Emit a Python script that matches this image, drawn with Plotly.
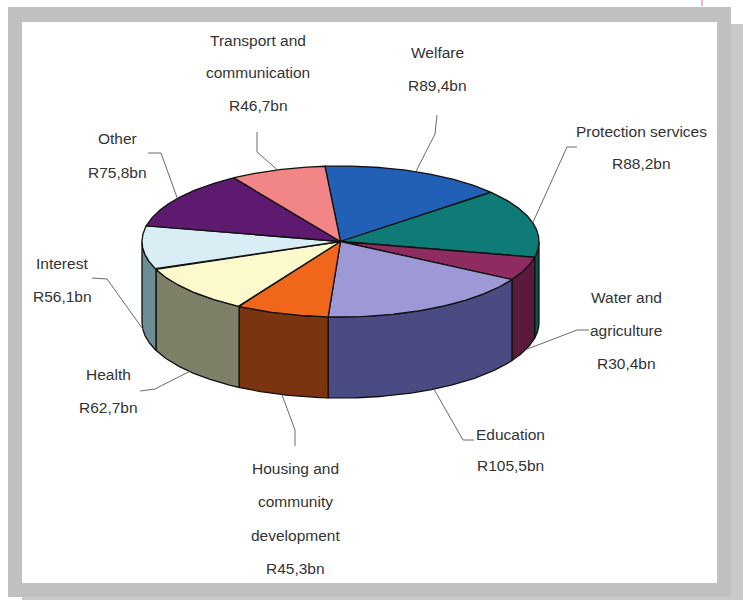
import numpy as np
import plotly.graph_objects as go

# ---------------- data ----------------
categories = ["Welfare", "Protection services", "Water and agriculture", "Education",
              "Housing and community development", "Health", "Interest", "Other",
              "Transport and communication"]
values = [89.4, 88.2, 30.4, 105.5, 45.3, 62.7, 56.1, 75.8, 46.7]
value_labels = ["R89,4bn", "R88,2bn", "R30,4bn", "R105,5bn", "R45,3bn",
                "R62,7bn", "R56,1bn", "R75,8bn", "R46,7bn"]
name_lines = [["Welfare"], ["Protection services"], ["Water and", "agriculture"],
              ["Education"], ["Housing and", "community", "development"],
              ["Health"], ["Interest"], ["Other"], ["Transport and", "communication"]]

# ---------------- styles ----------------
top_colors = ["#2260B8", "#0F7B76", "#8E2C62", "#9C99D6", "#F0671C",
              "#FCF9CC", "#D8EEF4", "#5E1A6E", "#F28585"]
side_colors = ["#163F7A", "#0A524E", "#5A1A3C", "#4B4B84", "#7B3410",
               "#7F8068", "#6C8C96", "#3E1149", "#A05858"]

# ---------------- layout geometry (pixels) ----------------
W, H = 743, 600
CX, CY, RX, RY, DEPTH = 340.5, 241.5, 198.5, 75.5, 81
START = 94.5  # degrees, slices run clockwise

# label placement: (text centre x, first line y, line spacing, leader elbow points)
label_pos = [
    (437, 52, 33, [(437, 115), (435, 134)]),
    (641, 131, 32, [(577, 147), (567, 147)]),
    (626, 297, 33, [(589, 330), (577, 330)]),
    (510, 434, 31, [(474, 440), (463, 440)]),
    (295, 468, 33.5, [(295, 446), (295, 430)]),
    (108, 374, 33, [(140, 391), (155, 389)]),
    (62, 263, 33, [(92, 278), (107, 279)]),
    (117, 138, 34, [(148, 153), (161, 153)]),
    (258, 40, 32.5, [(257, 132), (257, 152)]),
]

FONT = dict(family="Liberation Sans Narrow, Arial Narrow, Liberation Sans, Arial",
            size=15.5, color="#333333")


def pt(theta_deg, dz=0.0):
    t = np.radians(theta_deg)
    return CX + RX * np.cos(t), CY - RY * np.sin(t) + dz


total = float(sum(values))
cum = np.concatenate([[0.0], np.cumsum(values)]) / total
th_s = START - 360.0 * cum[:-1]
th_e = START - 360.0 * cum[1:]

fig = go.Figure()

# side walls (front half only)
for i in range(len(values)):
    s, e = th_s[i], th_e[i]
    for k in range(-2, 3):
        lo = max(e, -180 + 360 * k)
        hi = min(s, 0 + 360 * k)
        if hi - lo <= 1e-6:
            continue
        th = np.linspace(hi, lo, max(int((hi - lo) * 4), 2))
        xt, yt = pt(th)
        xb, yb = pt(th[::-1], DEPTH)
        xs = np.concatenate([xt, xb, xt[:1]])
        ys = np.concatenate([yt, yb, yt[:1]])
        fig.add_trace(go.Scatter(x=xs, y=ys, mode="lines", fill="toself",
                                 fillcolor=side_colors[i],
                                 line=dict(color="#111111", width=1.3),
                                 hoverinfo="skip", showlegend=False))

# top faces
for i in range(len(values)):
    s, e = th_s[i], th_e[i]
    th = np.linspace(s, e, max(int((s - e) * 4), 2))
    xa, ya = pt(th)
    xs = np.concatenate([[CX], xa, [CX]])
    ys = np.concatenate([[CY], ya, [CY]])
    fig.add_trace(go.Scatter(x=xs, y=ys, mode="lines", fill="toself",
                             fillcolor=top_colors[i],
                             line=dict(color="#111111", width=1.3),
                             name=categories[i], text=value_labels[i],
                             hoverinfo="name+text", showlegend=False))

# labels and leader lines
annotations = []
for i in range(len(values)):
    lx, ly, sp, elbow = label_pos[i]
    lines = name_lines[i] + [value_labels[i]]
    for j, ln in enumerate(lines):
        annotations.append(dict(x=lx, y=ly + j * sp, xref="x", yref="y", text=ln,
                                showarrow=False, xanchor="center", yanchor="middle",
                                font=FONT))
    mid = (th_s[i] + th_e[i]) / 2.0
    dz = DEPTH if np.sin(np.radians(mid)) < 0 else 0.0
    ex, ey = pt(mid, dz)
    xs = [p[0] for p in elbow] + [ex]
    ys = [p[1] for p in elbow] + [ey]
    fig.add_trace(go.Scatter(x=xs, y=ys, mode="lines",
                             line=dict(color="#6a6a6a", width=1),
                             hoverinfo="skip", showlegend=False))

# frame
shapes = [
    dict(type="rect", xref="x", yref="y", x0=22, y0=24, x1=743, y1=600,
         fillcolor="#C9C9C9", line=dict(width=0), layer="below"),
    dict(type="rect", xref="x", yref="y", x0=8, y0=7, x1=731, y1=597,
         fillcolor="#C0C0C0", line=dict(width=0), layer="below"),
    dict(type="rect", xref="x", yref="y", x0=22, y0=22, x1=717, y1=583,
         fillcolor="#FFFFFF", line=dict(width=0), layer="below"),
    dict(type="line", xref="x", yref="y", x0=702, y0=0, x1=702, y1=6,
         line=dict(color="#F3B8C4", width=2), layer="below"),
]

fig.update_layout(
    width=W, height=H, margin=dict(l=0, r=0, t=0, b=0),
    paper_bgcolor="white", plot_bgcolor="white",
    xaxis=dict(range=[0, W], visible=False, fixedrange=True),
    yaxis=dict(range=[H, 0], visible=False, fixedrange=True),
    shapes=shapes, annotations=annotations, showlegend=False,
)

fig.write_html("out.html")
